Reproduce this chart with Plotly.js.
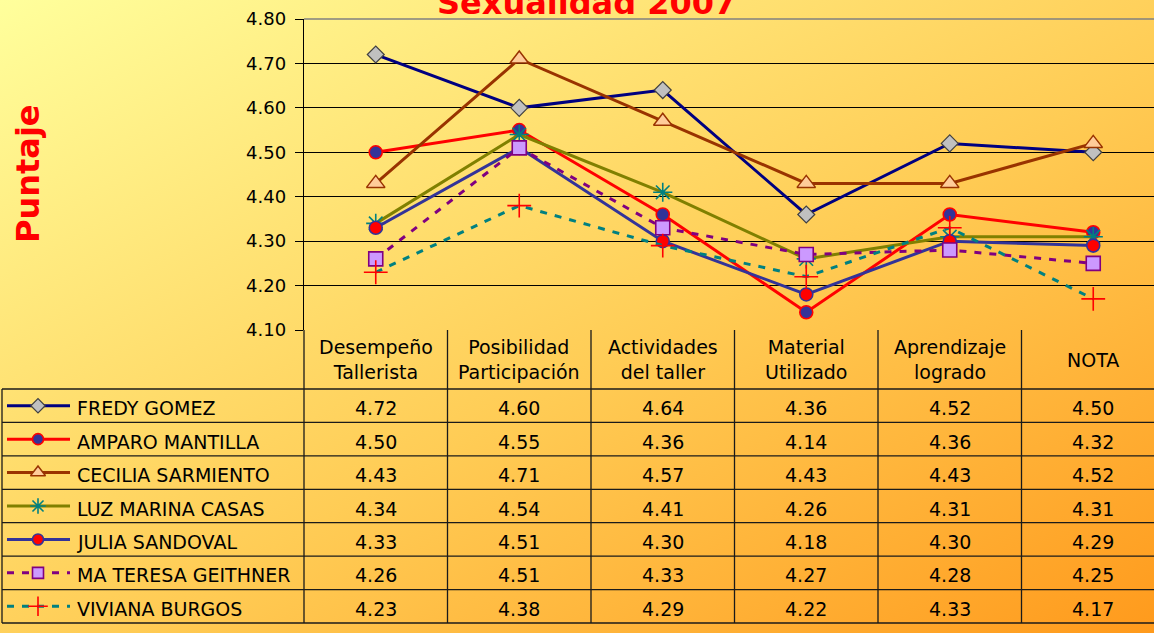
<!DOCTYPE html>
<html>
<head>
<meta charset="utf-8">
<script src="https://cdn.plot.ly/plotly-3.0.1.min.js"></script>
<style>
  html, body { margin: 0; padding: 0; }
  body { width: 1154px; height: 633px; overflow: hidden;
         background: linear-gradient(to bottom right, #FFFF9C 0%, #FFCC55 55%, #FF9A1C 100%); }
  #chart { width: 1154px; height: 633px; }
</style>
</head>
<body>
<div id="chart"></div>
<script>
// ---------- DATA ----------
const categories = ['Desempeño<br>Tallerista', 'Posibilidad<br>Participación', 'Actividades<br>del taller',
                    'Material<br>Utilizado', 'Aprendizaje<br>logrado', 'NOTA'];
const seriesNames = ['FREDY GOMEZ', 'AMPARO MANTILLA', 'CECILIA SARMIENTO', 'LUZ MARINA CASAS',
                     'JULIA SANDOVAL', 'MA TERESA GEITHNER', 'VIVIANA BURGOS'];
const fredyGomez       = [4.72, 4.60, 4.64, 4.36, 4.52, 4.50];
const amparoMantilla   = [4.50, 4.55, 4.36, 4.14, 4.36, 4.32];
const ceciliaSarmiento = [4.43, 4.71, 4.57, 4.43, 4.43, 4.52];
const luzMarinaCasas   = [4.34, 4.54, 4.41, 4.26, 4.31, 4.31];
const juliaSandoval    = [4.33, 4.51, 4.30, 4.18, 4.30, 4.29];
const maTeresaGeithner = [4.26, 4.51, 4.33, 4.27, 4.28, 4.25];
const vivianaBurgos    = [4.23, 4.38, 4.29, 4.22, 4.33, 4.17];
const yTickValues = [4.10, 4.20, 4.30, 4.40, 4.50, 4.60, 4.70, 4.80];
const titleText = 'Sexualidad 2007';
const yTitleText = 'Puntaje';

const allValues = [fredyGomez, amparoMantilla, ceciliaSarmiento, luzMarinaCasas,
                   juliaSandoval, maTeresaGeithner, vivianaBurgos];

// ---------- STYLES ----------
const LW = 3;
const styles = [
  {line: {color: '#000080', width: LW}, marker: {symbol: 'diamond', size: 13, color: '#C0C0C0', line: {color: '#404040', width: 1.2}}},
  {line: {color: '#FF0000', width: LW}, marker: {symbol: 'circle', size: 13, color: '#333399', line: {color: '#FF0000', width: 1.6}}},
  {line: {color: '#993300', width: LW}, marker: {symbol: 'triangle-up', size: 16, color: '#FFCC99', line: {color: '#993300', width: 1.5}}},
  {line: {color: '#808000', width: LW}, marker: {symbol: 'asterisk-open', size: 16, color: '#008080', line: {color: '#008080', width: 1.6}}},
  {line: {color: '#333399', width: LW}, marker: {symbol: 'circle', size: 13, color: '#FF0000', line: {color: '#333399', width: 1.6}}},
  {line: {color: '#800080', width: LW, dash: '7px,8px'}, marker: {symbol: 'square', size: 14, color: '#CC99FF', line: {color: '#800080', width: 1.6}}},
  {line: {color: '#008080', width: LW, dash: '7px,8px'}, marker: {symbol: 'cross-thin-open', size: 17, color: '#FF0000', line: {color: '#FF0000', width: 1.6}}}
];

// ---------- GEOMETRY (pixels) ----------
const W = 1154, H = 633;
const plotLeft = 304, plotTop = 19, plotBottom = 330;
const colW = 143.5;
const tableTop = 389, tableBottom = 623, tableLeft = 2;
const rowH = (tableBottom - tableTop) / seriesNames.length;
const px = x => x / W;
const py = y => (H - y) / H;
const FONT = 'DejaVu Sans, Verdana, sans-serif';

const traces = [];
const shapes = [];
const annotations = [];

// main series
allValues.forEach((vals, i) => {
  traces.push({
    type: 'scatter', mode: 'lines+markers', name: seriesNames[i],
    x: categories, y: vals, xaxis: 'x', yaxis: 'y',
    line: styles[i].line, marker: styles[i].marker, cliponaxis: false, showlegend: false
  });
});

// legend keys inside the data table (first column)
allValues.forEach((vals, i) => {
  const cy = tableTop + rowH * (i + 0.5);
  traces.push({
    type: 'scatter', mode: 'lines', x: [7, 70], y: [cy, cy], xaxis: 'x2', yaxis: 'y2',
    line: styles[i].line, hoverinfo: 'skip', showlegend: false
  });
  const m = Object.assign({}, styles[i].marker, {size: Math.round(styles[i].marker.size * 0.82)});
  traces.push({
    type: 'scatter', mode: 'markers', x: [38], y: [cy], xaxis: 'x2', yaxis: 'y2',
    marker: m, hoverinfo: 'skip', showlegend: false
  });
  annotations.push({
    xref: 'paper', yref: 'paper', x: px(75), y: py(cy + 2.5), xanchor: 'left', yanchor: 'middle',
    text: seriesNames[i], showarrow: false, font: {family: FONT, size: 19, color: '#000'}
  });
  vals.forEach((v, j) => {
    annotations.push({
      xref: 'paper', yref: 'paper', x: px(plotLeft + colW * (j + 0.5)), y: py(cy + 2.5),
      xanchor: 'center', yanchor: 'middle', text: v.toFixed(2), showarrow: false,
      font: {family: FONT, size: 19, color: '#000'}
    });
  });
});

// header row
categories.forEach((c, j) => {
  annotations.push({
    xref: 'paper', yref: 'paper', x: px(plotLeft + colW * (j + 0.5)), y: py((plotBottom + tableTop) / 2),
    xanchor: 'center', yanchor: 'middle', text: c, showarrow: false,
    font: {family: FONT, size: 19, color: '#000'}
  });
});

// table grid
const lineStyle = {color: '#1a1a1a', width: 1.3};
for (let k = 0; k <= seriesNames.length; k++) {
  const y = tableTop + rowH * k;
  shapes.push({type: 'line', xref: 'paper', yref: 'paper', x0: px(tableLeft), x1: 1, y0: py(y), y1: py(y), line: lineStyle});
}
for (let k = 0; k <= categories.length; k++) {
  const x = plotLeft + colW * k;
  shapes.push({type: 'line', xref: 'paper', yref: 'paper', x0: px(x), x1: px(x), y0: py(plotBottom), y1: py(tableBottom), line: lineStyle});
}
shapes.push({type: 'line', xref: 'paper', yref: 'paper', x0: px(tableLeft), x1: px(tableLeft), y0: py(tableTop), y1: py(tableBottom), line: lineStyle});
// plot-area top border (gray)
shapes.push({type: 'line', xref: 'paper', yref: 'paper', x0: px(plotLeft), x1: 1, y0: py(plotTop), y1: py(plotTop), line: {color: '#808080', width: 1.5}});

// titles
annotations.push({
  xref: 'paper', yref: 'paper', x: px(586), y: py(24), xanchor: 'center', yanchor: 'bottom',
  text: '<b>' + titleText + '</b>', showarrow: false, font: {family: FONT, size: 32, color: '#FF0000'}
});
annotations.push({
  xref: 'paper', yref: 'paper', x: px(28), y: py(174), xanchor: 'center', yanchor: 'middle',
  text: '<b>' + yTitleText + '</b>', textangle: -90, showarrow: false, font: {family: FONT, size: 32, color: '#FF0000'}
});

const layout = {
  width: W, height: H,
  margin: {l: 0, r: 0, t: 0, b: 0, pad: 0},
  paper_bgcolor: 'rgba(0,0,0,0)', plot_bgcolor: 'rgba(0,0,0,0)',
  showlegend: false,
  xaxis: {
    domain: [px(plotLeft), 1], type: 'category', range: [-0.5, -0.5 + (W - plotLeft) / colW],
    showticklabels: false, ticks: '', showgrid: false, zeroline: false, showline: false, fixedrange: true
  },
  yaxis: {
    domain: [py(plotBottom), py(plotTop)], range: [4.1, 4.8], tickvals: yTickValues,
    ticktext: yTickValues.map(v => v.toFixed(2)),
    showgrid: true, gridcolor: '#000000', gridwidth: 1, zeroline: false,
    showline: true, linecolor: '#000000', linewidth: 1.3, ticks: 'outside', ticklen: 8, tickcolor: '#000000',
    ticklabelstandoff: 5,
    tickfont: {family: FONT, size: 18, color: '#000'}, anchor: 'x', fixedrange: true
  },
  xaxis2: {domain: [0, px(plotLeft)], range: [0, plotLeft], visible: false, fixedrange: true, anchor: 'y2'},
  yaxis2: {domain: [0, 1], range: [H, 0], visible: false, fixedrange: true, anchor: 'x2'},
  shapes: shapes,
  annotations: annotations
};

Plotly.newPlot('chart', traces, layout, {displayModeBar: false, staticPlot: true});
</script>
</body>
</html>
